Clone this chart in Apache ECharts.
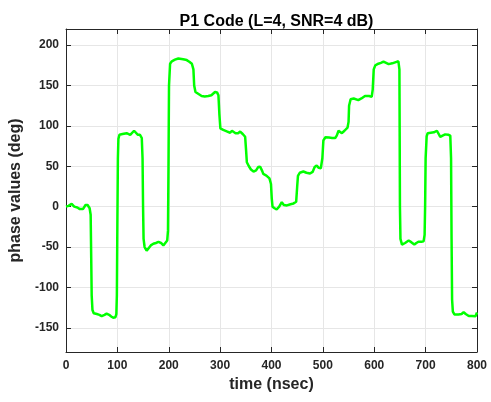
<!DOCTYPE html>
<html>
<head>
<meta charset="utf-8">
<script src="https://cdn.jsdelivr.net/npm/echarts@6/dist/echarts.min.js"></script>
<style>html,body{margin:0;padding:0;background:#fff;}#c{width:491px;height:402px;}</style>
</head>
<body>
<div id="c"></div>
<script>
var titleText = 'P1 Code (L=4, SNR=4 dB)';
var xName = 'time (nsec)';
var yName = 'phase values (deg)';
var xTicks = [0, 100, 200, 300, 400, 500, 600, 700, 800];
var yTicks = [-150, -100, -50, 0, 50, 100, 150, 200];
var timeNs = [
  0, 5, 11, 16, 22, 27, 33, 38, 42, 46, 48, 49, 50, 51.5, 54,
  60, 65, 69.5, 75, 79, 84, 88, 92, 96, 98, 99, 100, 101, 102, 104,
  110, 118, 125, 132.5, 136, 140, 144, 147.5, 149, 150, 151, 153, 157,
  160, 165, 170, 175, 180, 185, 189.5, 193, 197, 198.5, 199.5, 200.5, 202.6, 206,
  212, 218.7, 228, 235, 240, 245, 248, 249.5, 252, 258, 264, 270, 277, 283, 290, 294, 296.7,
  298.5, 300.5, 302, 306, 309, 314, 319.5, 323, 326, 330, 335, 339, 344, 348.7, 350.5, 352,
  356, 360, 365, 370, 374, 378, 382, 384, 390, 396, 399, 400.5, 402,
  406, 410, 415, 420, 424, 430, 437, 443, 448, 450, 451.5, 455,
  462, 468, 475, 480, 484, 488, 492, 496, 499, 501, 505,
  512, 518, 524, 527, 530.5, 534, 537, 542, 548, 550, 551, 554,
  560, 569, 575, 582, 590, 595, 597, 599, 602, 608, 613, 618, 623, 628, 635, 642, 647, 649,
  650, 651, 654, 660, 667, 672, 678, 682, 686, 692, 696, 698, 699, 700, 702, 704,
  710, 716, 722, 725, 728.5, 733, 738, 744, 748, 749.5, 750.5, 751.5, 753, 756,
  764, 770, 774, 778, 784, 790, 797, 800
];
var phaseDeg = [
  0, 1, 3.5, 0, -1, -3, -3, 2, 2, -2, -10, -60, -110, -128, -132,
  -133, -134, -135.6, -134, -132.5, -134, -136, -137.6, -137, -133, -110, -20, 60, 84, 89,
  90, 91, 89, 94, 93, 89, 89, 85, 60, 0, -40, -50, -54.5,
  -53, -48, -46, -45, -43.7, -45, -48, -46, -42, -30, 50, 150, 177, 180,
  182, 183.5, 182.5, 181.5, 179.5, 177, 170, 150, 142, 139.5, 137, 136.5, 137, 138, 142, 141.5, 138,
  115, 97, 96, 95, 97, 93, 91.5, 94, 95, 91, 91, 93, 90, 86.5, 70, 55,
  50, 46, 43.5, 45, 49, 49.5, 44, 40.5, 38.5, 35, 28, 10, 0,
  -2, -3.5, 0, 5.5, 2, 1.5, 3, 4, 6, 25, 38, 42,
  43.5, 42, 41, 43, 49, 51, 48, 47.5, 60, 82, 86,
  85.5, 85, 85, 88, 94, 92.5, 91, 94, 98, 105, 125, 133,
  134, 132, 134, 137, 137, 136, 145, 170, 175, 177, 178, 179.5, 178, 176.5, 177.5, 179, 180, 170,
  0, -40, -47, -45, -42, -44, -47, -45, -43.4, -43.5, -43, -35, 0, 60, 87, 91,
  91.5, 92, 94, 92, 86.5, 88, 89.5, 89, 88, 60, -40, -115, -130, -133.5,
  -133.5, -133, -130.7, -133, -135.5, -135.5, -135.6, -131
];

var pts = timeNs.map(function (t, i) { return [t, phaseDeg[i]]; });
var axisCol = '#262626';
var gridCol = '#e6e6e6';
var fontFam = '"Liberation Sans", Arial, Helvetica, sans-serif';
var chart = echarts.init(document.getElementById('c'), null, {renderer: 'canvas'});
var baseX = {
  type: 'value', min: 0, max: 800, interval: 100,
  axisLine: {show: true, onZero: false, lineStyle: {color: axisCol, width: 1}},
  axisTick: {show: true, inside: true, length: 5, lineStyle: {color: axisCol}},
  splitLine: {show: false}
};
var baseY = {
  type: 'value', min: -180, max: 220,
  axisLine: {show: true, onZero: false, lineStyle: {color: axisCol, width: 1}},
  axisTick: {show: true, inside: true, length: 5, customValues: yTicks, lineStyle: {color: axisCol}},
  splitLine: {show: false}
};
chart.setOption({
  animation: false,
  backgroundColor: '#ffffff',
  title: {
    text: titleText, left: 271.5, textAlign: 'center', top: 9,
    textStyle: {fontFamily: fontFam, fontWeight: 'bold', fontSize: 16, color: '#000'}
  },
  grid: {left: 66, right: 14, top: 29, bottom: 50, containLabel: false},
  xAxis: [
    Object.assign({}, baseX, {
      position: 'bottom',
      splitLine: {show: true, lineStyle: {color: gridCol, width: 1}},
      axisLabel: {show: true, color: axisCol, fontFamily: fontFam, fontWeight: 'bold', fontSize: 12, margin: 8},
      name: xName, nameLocation: 'middle', nameGap: 25,
      nameTextStyle: {fontFamily: fontFam, fontWeight: 'bold', fontSize: 16, color: axisCol}
    }),
    Object.assign({}, baseX, {position: 'top', axisLabel: {show: false}})
  ],
  yAxis: [
    Object.assign({}, baseY, {
      position: 'left',
      splitLine: {show: true, lineStyle: {color: gridCol, width: 1}},
      axisLabel: {show: true, customValues: yTicks, color: axisCol, fontFamily: fontFam, fontWeight: 'bold', fontSize: 12, margin: 7},
      name: yName, nameLocation: 'middle', nameGap: 33, nameRotate: 90,
      nameTextStyle: {fontFamily: fontFam, fontWeight: 'bold', fontSize: 16, color: axisCol}
    }),
    Object.assign({}, baseY, {position: 'right', axisLabel: {show: false}})
  ],
  series: [{
    type: 'line', data: pts, xAxisIndex: 0, yAxisIndex: 0,
    showSymbol: false, symbol: 'none', smooth: false,
    lineStyle: {color: '#00ff00', width: 2.5},
    clip: true
  }]
});
</script>
</body>
</html>
